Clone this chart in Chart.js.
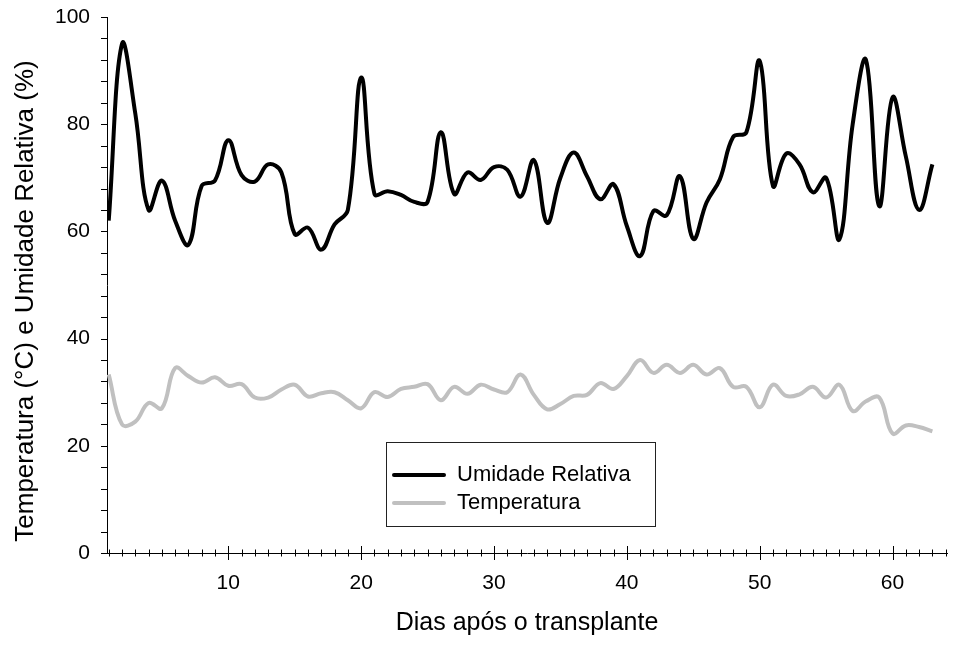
<!DOCTYPE html>
<html>
<head>
<meta charset="utf-8">
<title>Umidade Relativa e Temperatura</title>
<script src="https://cdn.jsdelivr.net/npm/chart.js@4.4.1/dist/chart.umd.min.js"></script>
<style>
    html, body { margin: 0; padding: 0; background: #fff; }
    #wrap { width: 954px; height: 646px; }
</style>
</head>
<body>
<div id="wrap"><canvas id="climaChart" width="954" height="646"></canvas></div>
<script>
var days = [1, 2, 3, 4, 5, 6, 7, 8, 9, 10, 11, 12, 13, 14, 15, 16, 17, 18, 19, 20,
    21, 22, 23, 24, 25, 26, 27, 28, 29, 30, 31, 32, 33, 34, 35, 36, 37, 38, 39, 40,
    41, 42, 43, 44, 45, 46, 47, 48, 49, 50, 51, 52, 53, 54, 55, 56, 57, 58, 59, 60,
    61, 62, 63];

var umidade = [62, 95, 82, 64, 69.5, 62, 57.5, 68.5, 69.5, 77,
    70.5, 69.3, 72.5, 71, 59.5, 60.7, 56.6, 61.3, 64, 88.7,
    67, 67.5, 66.8, 65.5, 65.5, 78.5, 67, 71, 69.6, 72,
    71.5, 66.5, 73.3, 61.6, 70, 74.7, 70.3, 66, 68.8, 61,
    55.4, 63.8, 63, 70.3, 58.6, 65.4, 69.7, 77.6, 78.5, 91.8,
    68.5, 74.5, 72.5, 67.3, 70, 58.5, 80, 92, 64.7, 85,
    74, 64, 72.5];

var temperatura = [33.3, 24, 24.5, 28, 27, 34.5, 33, 31.8, 32.8, 31.2,
    31.5, 29, 29, 30.5, 31.4, 29.2, 29.8, 30, 28.5, 27,
    30, 29.1, 30.6, 31, 31.5, 28.5, 31, 29.7, 31.4, 30.5,
    30, 33.3, 29.5, 26.8, 27.8, 29.3, 29.5, 31.7, 30.6, 33,
    36, 33.6, 35.1, 33.6, 35.1, 33.3, 34.5, 31, 31, 27.2,
    31.4, 29.3, 29.6, 31, 29, 31.4, 26.5, 28.3, 29, 22.3,
    23.8, 23.5, 22.7];

var xLabelTicks = [10, 20, 30, 40, 50, 60];
var yLabelTicks = [0, 20, 40, 60, 80, 100];

var seriesNames = ['Umidade Relativa', 'Temperatura'];
var yTitle = 'Temperatura (°C) e Umidade Relativa (%)';
var xTitle = 'Dias após o transplante';

var FONT = '"Liberation Sans", Arial, sans-serif';

function points(values) {
    return days.map(function(d, i) {
        return { x: d, y: values[i] };
    });
}

// ticks and the y title, drawn through the chart's scales
var axisDecor = {
    id: 'axisDecor',
    beforeDatasetsDraw: function(chart) {
        var ctx = chart.ctx;
        var xs = chart.scales.x;
        var ys = chart.scales.y;
        var y0 = ys.getPixelForValue(0);
        var xLeft = xs.left;

        ctx.save();
        ctx.strokeStyle = '#000';
        ctx.lineWidth = 1;
        ctx.beginPath();
        for (var d = Math.ceil(xs.min); d <= Math.floor(xs.max); d++) {
            var px = Math.round(xs.getPixelForValue(d)) + 0.5;
            var len = (d % 10 === 0) ? 7 : 3.5;
            ctx.moveTo(px, y0 - len);
            ctx.lineTo(px, y0 + len);
        }
        for (var v = 0; v <= 100; v += 4) {
            var py = Math.round(ys.getPixelForValue(v)) + 0.5;
            ctx.moveTo(xLeft - 6, py);
            ctx.lineTo(xLeft, py);
        }
        ctx.stroke();

        ctx.translate(25.5, (ys.top + ys.bottom) / 2 + 16);
        ctx.rotate(-Math.PI / 2);
        ctx.fillStyle = '#000';
        ctx.font = '26px ' + FONT;
        ctx.textAlign = 'center';
        ctx.textBaseline = 'middle';
        ctx.fillText(yTitle, 0, 0);
        ctx.restore();
    }
};

// boxed legend inside the plot area
var boxLegend = {
    id: 'boxLegend',
    afterDatasetsDraw: function(chart) {
        var ctx = chart.ctx;
        var area = chart.chartArea;
        var left = area.left + 279;
        var top = area.bottom - 111;
        var w = 269;
        var h = 84;

        ctx.save();
        ctx.fillStyle = '#fff';
        ctx.fillRect(left, top, w, h);
        ctx.strokeStyle = '#222';
        ctx.lineWidth = 1;
        ctx.strokeRect(left + 0.5, top + 0.5, w, h);

        ctx.font = '22px ' + FONT;
        ctx.textBaseline = 'middle';
        chart.data.datasets.forEach(function(ds, i) {
            var cy = top + 33 + i * 28;
            ctx.strokeStyle = ds.borderColor;
            ctx.lineWidth = 4;
            ctx.lineCap = 'round';
            ctx.beginPath();
            ctx.moveTo(left + 8, cy);
            ctx.lineTo(left + 58, cy);
            ctx.stroke();
            ctx.fillStyle = '#000';
            ctx.fillText(ds.label, left + 71, cy);
        });
        ctx.restore();
    }
};

document.addEventListener('DOMContentLoaded', function() {
    var ctx = document.getElementById('climaChart').getContext('2d');

    var climaChart = new Chart(ctx, {
        type: 'line',
        data: {
            datasets: [{
                label: seriesNames[0],
                data: points(umidade),
                borderColor: '#000000',
                borderWidth: 4,
                pointRadius: 0,
                tension: 0.4,
                fill: false
            }, {
                label: seriesNames[1],
                data: points(temperatura),
                borderColor: '#c0c0c0',
                borderWidth: 4,
                pointRadius: 0,
                tension: 0.4,
                fill: false
            }]
        },
        options: {
            responsive: false,
            devicePixelRatio: 1,
            animation: false,
            layout: {
                padding: { left: 0, top: 17, right: 7, bottom: 0 }
            },
            plugins: {
                legend: { display: false },
                tooltip: { enabled: false }
            },
            scales: {
                x: {
                    type: 'linear',
                    min: 0.87,
                    max: 64.1,
                    afterBuildTicks: function(scale) {
                        scale.ticks = xLabelTicks.map(function(v) { return { value: v }; });
                    },
                    afterFit: function(scale) {
                        scale.height = 93;
                    },
                    grid: { display: false, drawTicks: false },
                    border: { display: true, color: '#000', width: 1 },
                    ticks: {
                        color: '#000',
                        padding: 18,
                        maxRotation: 0,
                        font: { family: FONT, size: 21 }
                    },
                    title: {
                        display: true,
                        text: xTitle,
                        color: '#000',
                        font: { family: FONT, size: 25 },
                        padding: { top: 0, bottom: 8 }
                    }
                },
                y: {
                    min: 0,
                    max: 100,
                    afterBuildTicks: function(scale) {
                        scale.ticks = yLabelTicks.map(function(v) { return { value: v }; });
                    },
                    afterFit: function(scale) {
                        scale.width = 107;
                        scale.paddingTop = 0;
                        scale.paddingBottom = 0;
                    },
                    grid: { display: false, drawTicks: false },
                    border: { display: true, color: '#000', width: 1 },
                    ticks: {
                        color: '#000',
                        padding: 17,
                        font: { family: FONT, size: 21 }
                    }
                }
            }
        },
        plugins: [axisDecor, boxLegend]
    });
});
</script>
</body>
</html>
